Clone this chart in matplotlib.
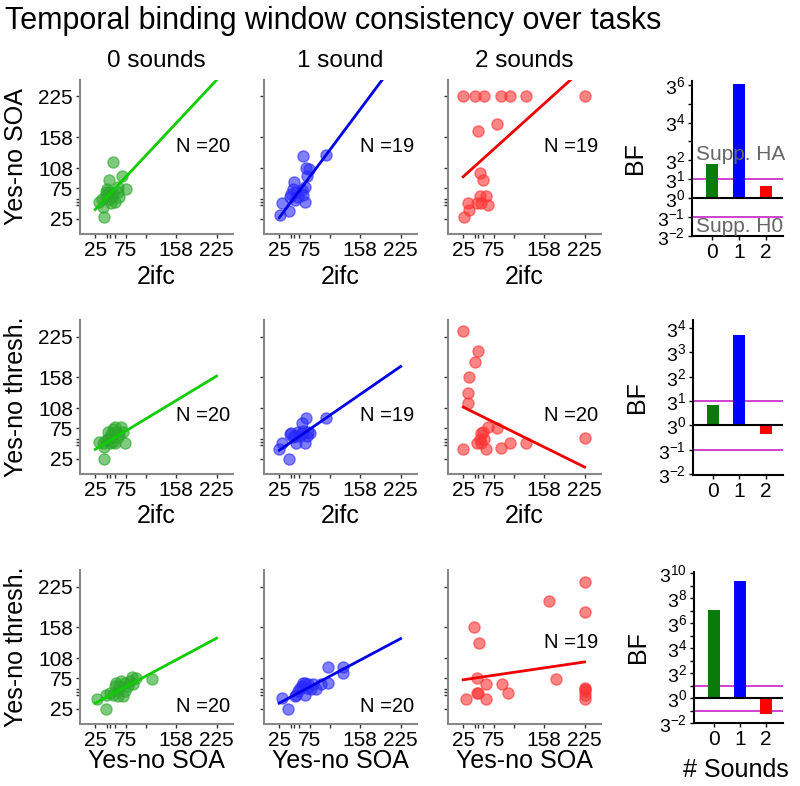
import numpy as np
import matplotlib
matplotlib.use("Agg")
import matplotlib.pyplot as plt

plt.rcParams['font.family'] = ['Liberation Sans', 'DejaVu Sans']
plt.rcParams['mathtext.fontset'] = 'custom'
plt.rcParams['mathtext.rm'] = 'Liberation Sans'
plt.rcParams['mathtext.it'] = 'Liberation Sans:italic'
plt.rcParams['mathtext.bf'] = 'Liberation Sans:bold'

# ---- data ----
col_titles = ["0 sounds", "1 sound", "2 sounds"]
row_ylabels = ["Yes-no SOA", "Yes-no thresh.", "Yes-no thresh."]
row_xlabels = ["2ifc", "2ifc", "Yes-no SOA"]

# row 1: Yes-no SOA vs 2ifc
r1c0_x = [55, 47, 69, 75, 62, 32, 40, 38, 51, 43, 48, 55, 53, 37, 45, 62, 65, 50, 58, 42]
r1c0_y = [117, 88, 95, 73, 77, 52, 28, 44, 50, 63, 68, 65, 60, 57, 74, 68, 60, 57, 52, 68]
r1c1_x = [26, 41, 30, 64, 102, 69, 74, 71, 50, 67, 47, 53, 62, 45, 64, 51, 67, 42, 56]
r1c1_y = [31, 38, 51, 128, 130, 108, 106, 95, 85, 77, 74, 69, 72, 65, 63, 56, 52, 61, 61]
r1c2_x = [25, 44, 60, 88, 102, 129, 225, 50, 80, 52, 58, 52, 63, 33, 47, 66, 35, 26, 55]
r1c2_y = [226, 226, 226, 226, 226, 226, 226, 169, 180, 99, 89, 62, 62, 51, 50, 47, 40, 28, 50]

# row 2: Yes-no thresh. vs 2ifc
r2c0_x = [39, 32, 46, 74, 57, 68, 51, 46, 40, 54, 63, 65, 60, 51, 43, 57, 71, 54, 49, 38]
r2c0_y = [24, 52, 58, 50, 77, 77, 66, 69, 44, 52, 60, 66, 69, 60, 55, 50, 69, 74, 50, 50]
r2c1_x = [41, 25, 30, 69, 102, 63, 45, 56, 75, 53, 67, 48, 59, 72, 51, 62, 42, 70, 64]
r2c1_y = [25, 41, 51, 92, 92, 83, 67, 69, 67, 50, 50, 60, 63, 69, 63, 67, 66, 63, 71]
r2c2_x = [25, 50, 45, 34, 33, 33, 25, 63, 88, 102, 129, 80, 66, 55, 60, 47, 55, 52, 225, 58]
r2c2_y = [234, 201, 184, 159, 133, 117, 41, 41, 42, 51, 51, 75, 77, 67, 58, 51, 50, 58, 59, 69]

# row 3: Yes-no thresh. vs Yes-no SOA
r3c0_x = [42, 28, 118, 85, 93, 87, 68, 57, 49, 54, 63, 74, 71, 63, 79, 65, 74, 43, 60, 82]
r3c0_y = [24, 41, 74, 77, 76, 65, 70, 62, 51, 48, 54, 54, 46, 46, 62, 62, 67, 48, 67, 70]
r3c1_x = [40, 30, 106, 130, 130, 106, 86, 67, 53, 59, 64, 72, 81, 56, 70, 62, 94, 51, 78, 67]
r3c1_y = [24, 42, 93, 93, 84, 67, 57, 48, 48, 59, 67, 66, 65, 54, 59, 63, 65, 46, 58, 67]
r3c2_x = [225, 167, 225, 42, 51, 47, 178, 62, 89, 99, 50, 63, 29, 225, 225, 225, 225, 48, 225]
r3c2_y = [233, 201, 183, 158, 133, 76, 74, 66, 66, 50, 50, 41, 41, 59, 54, 48, 41, 51, 57]

scatter_x = [[r1c0_x, r1c1_x, r1c2_x], [r2c0_x, r2c1_x, r2c2_x], [r3c0_x, r3c1_x, r3c2_x]]
scatter_y = [[r1c0_y, r1c1_y, r1c2_y], [r2c0_y, r2c1_y, r2c2_y], [r3c0_y, r3c1_y, r3c2_y]]

# fitted lines (intercept, slope) per panel
fit_intercept = [[13.5, -6.7, 71.3], [25.2, 21.6, 121.8], [20.7, 20.9, 68.7]]
fit_slope = [[1.06, 1.33, 0.896], [0.60, 0.686, -0.491], [0.532, 0.528, 0.146]]

n_labels = [["N =20", "N =19", "N =19"], ["N =20", "N =19", "N =20"], ["N =20", "N =20", "N =19"]]
n_ypos = [[143, 143, 143], [96, 96, 96], [29, 29, 133]]

# Bayes factors, as exponents of 3
bf_sounds = [0, 1, 2]
bf_log3 = [[1.82, 6.05, 0.63], [0.84, 3.72, -0.37], [7.05, 9.4, -1.3]]

tick_vals = [25, 75, 108, 158, 225]
tick_labels = ["25", "75", "", "158", "225"]
ytick_labels = ["25", "75", "108", "158", "225"]
minor_x = [44, 50, 57]
minor_y = [47, 52, 57]

pt_colors = ["#2aa82a", "#2a2aff", "#ff3333"]
line_colors = ["#11cc00", "#0000e6", "#ee0000"]
bar_colors = ["#0a7a0a", "#0000ff", "#ff0000"]

fig = plt.figure(figsize=(8, 7.86), dpi=100)
W, H = 800.0, 786.0

fig.text(5 / W, 1 - 21 / H, "Temporal binding window consistency over tasks",
         fontsize=22, ha='left', va='center')

col_left = [80, 264, 448]
row_top = [80, 320, 570]
ax_w, ax_h = 153, 154
xlabel_y = [-0.2, -0.195, -0.165]

for r in range(3):
    for c in range(3):
        ax = fig.add_axes([col_left[c] / W, 1 - (row_top[r] + ax_h) / H, ax_w / W, ax_h / H])
        ax.scatter(scatter_x[r][c], scatter_y[r][c], s=64, color=pt_colors[c], alpha=0.6,
                   edgecolors=pt_colors[c], linewidths=1, zorder=2)
        xs = np.array([25, 225])
        ax.plot(xs, fit_intercept[r][c] + fit_slope[r][c] * xs, color=line_colors[c], lw=2, zorder=3)
        ax.set_xlim(0, 252)
        ax.set_ylim(0, 252)
        for s in ['top', 'right']:
            ax.spines[s].set_visible(False)
        for s in ['left', 'bottom']:
            ax.spines[s].set_color('#888888')
            ax.spines[s].set_linewidth(1.5)
        ax.set_xticks(tick_vals)
        ax.set_xticklabels(tick_labels)
        ax.set_yticks(tick_vals)
        ax.set_yticks(minor_y, minor=True)
        ax.set_xticks(minor_x, minor=True)
        ax.tick_params(which='both', length=3, width=1, color='#333333', labelsize=15, pad=2)
        if c == 0:
            ax.set_yticklabels(ytick_labels)
            ax.set_ylabel(row_ylabels[r], fontsize=18)
            ax.yaxis.set_label_coords(-0.34, 0.5)
        else:
            ax.tick_params(labelleft=False)
        ax.set_xlabel(row_xlabels[r], fontsize=18, va='top')
        ax.xaxis.set_label_coords(0.5, xlabel_y[r])
        if r == 0:
            ax.set_title(col_titles[c], fontsize=17.5, pad=9)
        ax.text(203, n_ypos[r][c], n_labels[r][c], fontsize=14.5, ha='center', va='center')

bf_boxes = [(692, 81, 236), (693, 320, 475), (694, 572, 723)]
bf_ylims = [(-2, 6.2), (-2.04, 4.33), (-2, 10.1)]
bf_major = [[-2, -1, 0, 1, 2, 4, 6], [-2, -1, 0, 1, 2, 3, 4], [-2, 0, 2, 4, 6, 8, 10]]
bf_minor = [[3, 5], [], [-1, 1, 3, 5, 7, 9]]

for r in range(3):
    x0, top, bot = bf_boxes[r]
    ax = fig.add_axes([x0 / W, 1 - bot / H, (783 - x0) / W, (bot - top) / H])
    ax.set_yscale('log', base=3)
    vals = [3.0 ** v for v in bf_log3[r]]
    heights = [v - 1 for v in vals]
    ax.bar(bf_sounds, heights, bottom=1, width=0.45, color=bar_colors, zorder=2)
    ax.axhline(1, color='black', lw=1.5, zorder=3)
    ax.axhline(3, color='#cc33cc', lw=1.3, zorder=1)
    ax.axhline(1 / 3, color='#cc33cc', lw=1.3, zorder=1)
    ax.set_ylim(3.0 ** bf_ylims[r][0], 3.0 ** bf_ylims[r][1])
    ax.set_xlim(-0.75, 2.65)
    ax.set_yticks([3.0 ** e for e in bf_major[r]])
    ax.set_yticklabels(["$3^{%d}$" % e for e in bf_major[r]])
    ax.set_yticks([3.0 ** e for e in bf_minor[r]], minor=True)
    ax.yaxis.set_minor_formatter(matplotlib.ticker.NullFormatter())
    ax.set_xticks(bf_sounds)
    ax.tick_params(which='both', length=3, width=1, labelsize=15, pad=2)
    ax.tick_params(axis='y', labelsize=14)
    for s in ['top', 'right']:
        ax.spines[s].set_visible(False)
    for s in ['left', 'bottom']:
        ax.spines[s].set_linewidth(1.5)
    ax.set_ylabel("BF", fontsize=18)
    ax.yaxis.set_label_coords(-0.49, 0.5)
    if r == 0:
        ax.text(-0.6, 3.0 ** 2.3, "Supp. HA", fontsize=15, color='#666666', ha='left', va='center')
        ax.text(-0.6, 3.0 ** -1.5, "Supp. H0", fontsize=15, color='#666666', ha='left', va='center')
    if r == 2:
        ax.set_xlabel("# Sounds", fontsize=18, va='top')
        ax.xaxis.set_label_coords(0.47, -0.23)

fig.savefig("out.png", dpi=100)
